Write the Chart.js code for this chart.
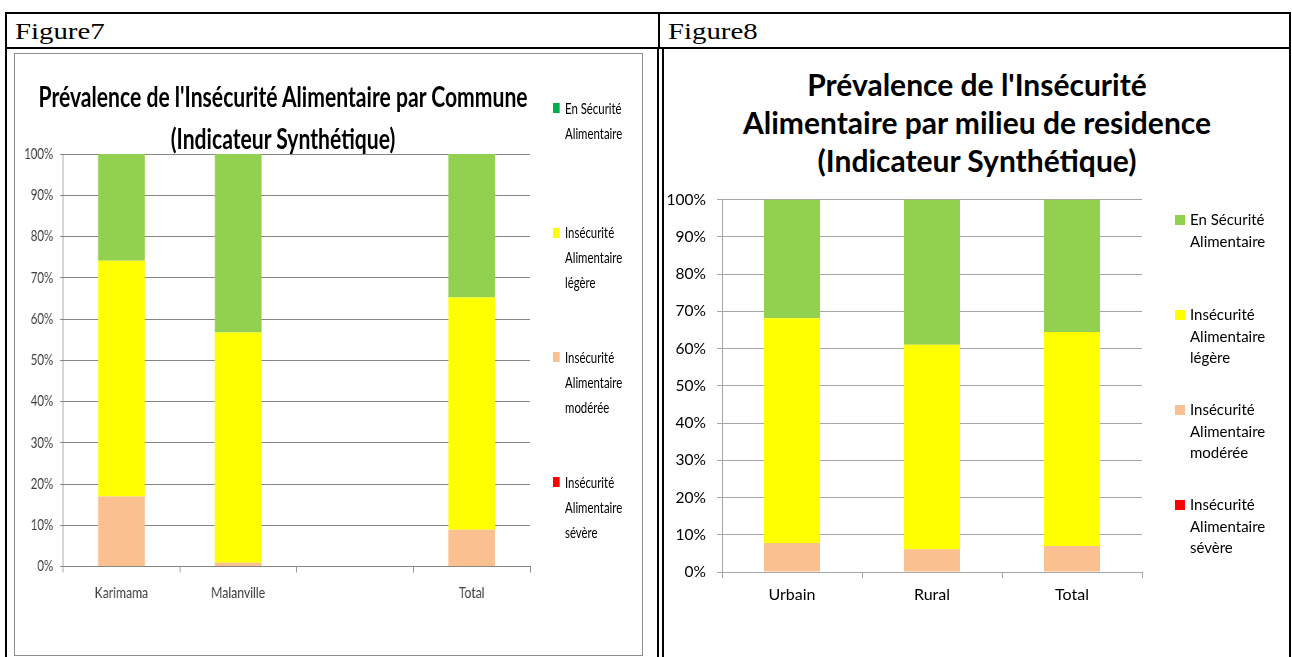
<!DOCTYPE html>
<html>
<head>
<meta charset="utf-8">
<script src="https://cdn.jsdelivr.net/npm/chart.js"></script>
<style>
  body { margin: 0; background: #fff; width: 1292px; height: 657px; overflow: hidden; position: relative; font-family: Lato, sans-serif; }
  .ln { position: absolute; background: #000; }
  .fig { position: absolute; font-family: "Liberation Serif", "Times New Roman", serif; font-size: 24px; line-height: 24px; transform: scaleX(1.2); transform-origin: 0 0; color: #000; }
  .title { position: absolute; font-weight: bold; text-align: center; color: #000; }
  .leg { position: absolute; white-space: pre-line; color: #000; }
  .leg i { position: absolute; display: block; }
</style>
</head>
<body>

<!-- table lines -->
<div class="ln" style="left:5px;top:12px;width:1286px;height:2px"></div>
<div class="ln" style="left:5px;top:12px;width:2px;height:645px"></div>
<div class="ln" style="left:5px;top:47px;width:1286px;height:2px"></div>
<div class="ln" style="left:658px;top:12px;width:2px;height:37px"></div>
<div class="ln" style="left:657px;top:47px;width:2px;height:610px"></div>
<div class="ln" style="left:662px;top:47px;width:2px;height:610px"></div>
<div class="ln" style="left:1289px;top:12px;width:2px;height:645px"></div>

<div class="fig" style="left:15px;top:19px">Figure7</div>
<div class="fig" style="left:668px;top:19px">Figure8</div>

<!-- figure 7 frame -->
<div style="position:absolute;left:14px;top:53px;width:629px;height:603px;border:1px solid #8c8c8c;box-sizing:border-box"></div>

<!-- figure 7 is squeezed horizontally, like the picture -->
<div id="box1" style="position:absolute;left:14px;top:53px;width:828px;height:603px;transform:scaleX(0.76);transform-origin:0 0">
  <div class="title" style="left:0;top:23px;width:708px;font-size:27.8px;line-height:42px">Prévalence de l'Insécurité Alimentaire par Commune<br>(Indicateur Synthétique)</div>
  <canvas id="chart1" width="828" height="603" style="position:absolute;left:0;top:0"></canvas>
  <div id="legend1"></div>
</div>

<div class="title" style="left:677px;top:65px;width:600px;font-size:30px;line-height:38px">Prévalence de l'Insécurité<br>Alimentaire par milieu de residence<br>(Indicateur Synthétique)</div>
<canvas id="chart2" width="625" height="607" style="position:absolute;left:665px;top:50px"></canvas>
<div id="legend2"></div>

<script>
// series, bottom of the stack first
var seriesNames = ["Insécurité\nAlimentaire\nsévère", "Insécurité\nAlimentaire\nmodérée", "Insécurité\nAlimentaire\nlégère", "En Sécurité\nAlimentaire"];
var seriesColors = ["#FF0000", "#FAC090", "#FFFF00", "#92D050"];
var legendColors1 = ["#FF0000", "#FAC090", "#FFFF00", "#00B050"];

// figure 7 - par commune (3rd slot is empty in the original)
var communes = ["Karimama", "Malanville", "", "Total"];
var severe1   = [0, 0, null, 0];
var moderee1  = [17.0, 0.9, null, 8.9];
var legere1   = [57.1, 55.8, null, 56.3];
var securite1 = [25.9, 43.3, null, 34.8];

// figure 8 - par milieu de residence
var milieux = ["Urbain", "Rural", "Total"];
var severe2   = [0, 0, 0];
var moderee2  = [7.8, 6.1, 7.0];
var legere2   = [60.3, 54.9, 57.4];
var securite2 = [31.9, 39.0, 35.6];

var yTicks = [0, 10, 20, 30, 40, 50, 60, 70, 80, 90, 100];

Chart.defaults.font.family = "Lato";
Chart.defaults.animation = false;

function makeDatasets(series) {
  return series.map(function(vals, i) {
    return {
      label: seriesNames[i].replace(/\n/g, " "),
      data: vals,
      backgroundColor: seriesColors[i],
      borderWidth: 0,
      barPercentage: 0.4,
      categoryPercentage: 1
    };
  });
}

function makeChart(id, labels, series, o) {
  var ctx = document.getElementById(id).getContext("2d");
  return new Chart(ctx, {
    type: "bar",
    data: { labels: labels, datasets: makeDatasets(series) },
    options: {
      responsive: false,
      layout: { padding: o.pad },
      plugins: { legend: { display: false }, title: { display: false }, tooltip: { enabled: false } },
      scales: {
        x: {
          stacked: true,
          afterFit: function(s) { s.height = 40; },
          grid: { drawOnChartArea: false, color: o.grid, tickLength: 6, offset: true },
          border: { color: o.grid },
          ticks: { color: o.text, font: { size: o.xFont }, padding: o.xPad }
        },
        y: {
          stacked: true,
          min: 0, max: 100,
          afterFit: function(s) { s.width = o.yWidth; },
          afterBuildTicks: function(s) { s.ticks = yTicks.map(function(v) { return { value: v }; }); },
          grid: { color: o.grid, tickLength: o.yTick },
          border: { color: o.grid },
          ticks: { color: o.text, font: { size: o.yFont }, padding: o.yPad, callback: function(v) { return v + "%"; } }
        }
      }
    }
  });
}

makeChart("chart1", communes, [severe1, moderee1, legere1, securite1], {
  pad: { left: 14.5, right: 149, top: 101, bottom: 49.5 }, yWidth: 50,
  grid: "#868686", text: "#404040", xFont: 16, xPad: 11, yFont: 15, yPad: 9, yTick: 4
});

makeChart("chart2", milieux, [severe2, moderee2, legere2, securite2], {
  pad: { left: 1, right: 148, top: 149.5, bottom: 45 }, yWidth: 56,
  grid: "#A6A6A6", text: "#000", xFont: 16, xPad: 7.4, yFont: 15.5, yPad: 11, yTick: 5
});

// legends: top item first (reverse of stack order)
function makeLegend(id, colors, o) {
  var el = document.getElementById(id);
  var html = "";
  for (var k = 0; k < seriesNames.length; k++) {
    var i = seriesNames.length - 1 - k;
    var y = o.top + k * o.step - o.lh / 2;
    html += '<div class="leg" style="left:' + o.textX + 'px;top:' + y + 'px;font-size:' + o.font + 'px;line-height:' + o.lh + 'px">' +
      '<i style="left:' + (o.boxX - o.textX) + 'px;top:' + (o.lh - o.boxH) / 2 + 'px;width:' + o.boxW + 'px;height:' + o.boxH + 'px;background:' + colors[i] + '"></i>' +
      seriesNames[i] + '</div>';
  }
  el.innerHTML = html;
}

makeLegend("legend1", legendColors1, { top: 55, step: 124.7, lh: 25, font: 15, textX: 725, boxX: 709, boxW: 9, boxH: 10 });
makeLegend("legend2", seriesColors, { top: 220, step: 95, lh: 21.5, font: 15, textX: 1190, boxX: 1175, boxW: 10, boxH: 10 });
</script>
</body>
</html>
